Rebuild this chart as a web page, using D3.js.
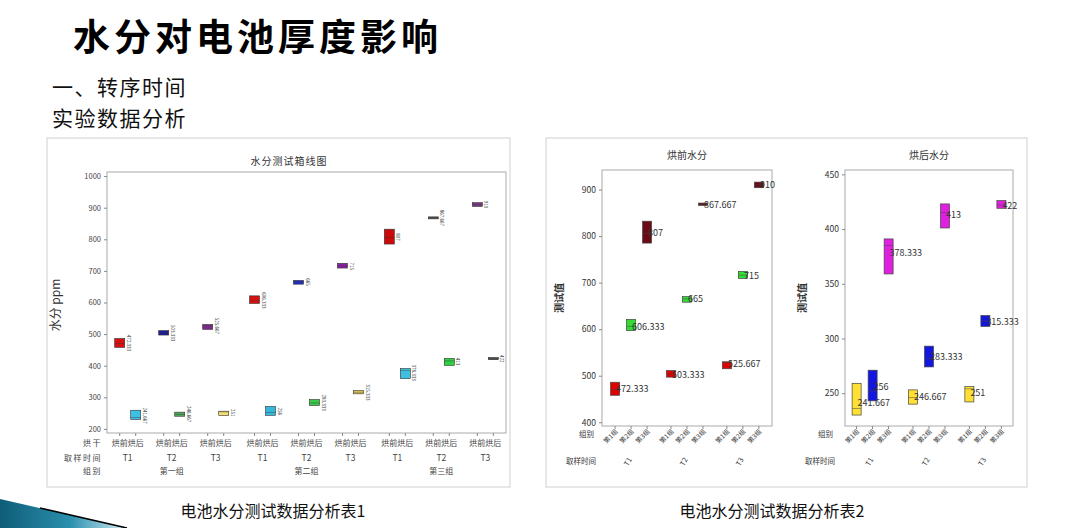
<!doctype html>
<html lang="zh">
<head>
<meta charset="UTF-8">
<title>水分对电池厚度影响</title>
<script src="https://d3js.org/d3.v7.min.js"></script>
<style>
  body { margin: 0; background: #fff; }
  svg text { font-family: "Noto Sans CJK SC", "DejaVu Sans", sans-serif; }
</style>
</head>
<body>
<div id="page"></div>
<script>
// ---- data ----
// order of the 9 entries: group major, time minor (组1 T1, 组1 T2, 组1 T3, 组2 T1 ...)
var groupNames = ["第一组", "第二组", "第三组"];
var groupShort = ["第1组", "第2组", "第3组"];
var times = ["T1", "T2", "T3"];
var dryStates = ["烘前", "烘后"];

var beforeMean = [472.333, 503.333, 525.667, 606.333, 665, 715, 807, 867.667, 910];
var beforeQ1   = [458, 497, 515, 597, 658, 709, 785, 866, 904];
var beforeMed  = [470, 503, 528, 606, 665, 716, 806, 868, 910];
var beforeQ3   = [486, 511, 530, 621, 670, 724, 832, 871, 916];

var afterMean = [241.667, 246.667, 251, 256, 283.333, 315.333, 378.333, 413, 422];
var afterQ1   = [230, 240, 242, 243, 274, 311, 359, 401, 419];
var afterMed  = [236, 246, 254, 252, 282, 316, 385, 415, 422];
var afterQ3   = [259, 253, 256, 271, 293, 321, 391, 423, 426];

var leftTicks = [200, 300, 400, 500, 600, 700, 800, 900, 1000];
var beforeTicks = [400, 500, 600, 700, 800, 900];
var afterTicks = [250, 300, 350, 400, 450];

// colours of the left chart (per entry)
var leftBeforeColors = ["#d81010", "#1e1e9a", "#7a2a8c", "#d81010", "#2030c8", "#8c20a8", "#cc0a0a", "#555555", "#7a3a88"];
var leftAfterColors  = ["#3cc0e6", "#4ea85a", "#f2e070", "#36b8dc", "#3cc84a", "#e8cc50", "#40c0e0", "#30d040", "#555555"];
// colours of the right panels (per group)
var beforeGroupColors = ["#e00000", "#33dd33", "#6b0a14"];
var afterGroupColors  = ["#ffe033", "#1515e0", "#e020e0"];

function fmt(v){ return String(+v.toFixed(3)); }

var svg = d3.select("#page").append("svg")
  .attr("width", 1080).attr("height", 528);

// ---- page texts ----
svg.append("text").attr("x", 73).attr("y", 51)
  .attr("font-size", 37).attr("font-weight", 700).attr("letter-spacing", 4)
  .attr("fill", "#000").text("水分对电池厚度影响");
svg.append("text").attr("x", 52).attr("y", 95)
  .attr("font-size", 21).attr("letter-spacing", 1.5).attr("fill", "#111").text("一、转序时间");
svg.append("text").attr("x", 52).attr("y", 126)
  .attr("font-size", 21).attr("letter-spacing", 1.5).attr("fill", "#111").text("实验数据分析");
svg.append("text").attr("x", 273).attr("y", 517).attr("text-anchor", "middle")
  .attr("font-size", 16).attr("fill", "#111").text("电池水分测试数据分析表1");
svg.append("text").attr("x", 772).attr("y", 517).attr("text-anchor", "middle")
  .attr("font-size", 16).attr("fill", "#111").text("电池水分测试数据分析表2");

// bottom-left swoosh
var grad = svg.append("defs").append("linearGradient").attr("id", "sw")
  .attr("x1", "0").attr("x2", "1").attr("y1", "0").attr("y2", "0");
grad.append("stop").attr("offset", "0").attr("stop-color", "#0f5d78");
grad.append("stop").attr("offset", "0.55").attr("stop-color", "#2a8fae");
grad.append("stop").attr("offset", "1").attr("stop-color", "#d6eef6");
svg.append("path").attr("d", "M0,499 L127,528 L0,528 Z").attr("fill", "url(#sw)");
svg.append("path").attr("d", "M40,508 L127,528").attr("stroke", "#000").attr("stroke-width", 1.6);

// picture frames
svg.append("rect").attr("x", 47).attr("y", 138).attr("width", 463).attr("height", 349)
  .attr("fill", "none").attr("stroke", "#d0d0d0");
svg.append("rect").attr("x", 546).attr("y", 138).attr("width", 481).attr("height", 349)
  .attr("fill", "none").attr("stroke", "#d0d0d0");

// ================= left chart =================
var L = { x0: 107, x1: 506, y0: 172, y1: 433 };
var yL = d3.scaleLinear().domain([187, 1013]).range([L.y1, L.y0]);
var gScale = d3.scalePoint().domain(groupNames).range([L.x0, L.x1]).padding(0.48);
var tScale = d3.scalePoint().domain(times).range([-44, 44]);
var dScale = d3.scalePoint().domain(dryStates).range([-8, 8]);

var left = svg.append("g");
left.append("text").attr("x", 289).attr("y", 165).attr("text-anchor", "middle")
  .attr("font-size", 10).attr("fill", "#333").attr("letter-spacing", 1).text("水分测试箱线图");
left.append("rect").attr("x", L.x0).attr("y", L.y0).attr("width", L.x1 - L.x0).attr("height", L.y1 - L.y0)
  .attr("fill", "none").attr("stroke", "#aaa");

var yAxisL = left.append("g").attr("transform", "translate(" + L.x0 + ",0)")
  .call(d3.axisLeft(yL).tickValues(leftTicks).tickSize(3).tickFormat(d3.format("d")));
yAxisL.select(".domain").remove();
yAxisL.selectAll("line").attr("stroke", "#888");
yAxisL.selectAll("text").attr("font-size", 7.5).attr("fill", "#444").attr("font-family", "DejaVu Sans");

left.append("text").attr("transform", "translate(60,305) rotate(-90)").attr("text-anchor", "middle")
  .attr("font-size", 12).attr("fill", "#333").text("水分  ppm");

var leftRows = [];
groupNames.forEach(function(g, gi){
  times.forEach(function(t, ti){
    var i = gi * 3 + ti;
    leftRows.push({ g: g, t: t, d: "烘前", q1: beforeQ1[i], med: beforeMed[i], q3: beforeQ3[i], mean: beforeMean[i], color: leftBeforeColors[i] });
    leftRows.push({ g: g, t: t, d: "烘后", q1: afterQ1[i], med: afterMed[i], q3: afterQ3[i], mean: afterMean[i], color: leftAfterColors[i] });
  });
});
function xL(d){ return gScale(d.g) + tScale(d.t) + dScale(d.d); }

// x ticks + labels
left.selectAll(".xt").data(leftRows).enter().append("line")
  .attr("x1", xL).attr("x2", xL).attr("y1", L.y1).attr("y2", L.y1 + 3).attr("stroke", "#888");
left.selectAll(".xl").data(leftRows).enter().append("text")
  .attr("x", xL).attr("y", 446).attr("text-anchor", "middle")
  .attr("font-size", 8).attr("fill", "#444").text(function(d){ return d.d; });
var timeCells = [];
groupNames.forEach(function(g){ times.forEach(function(t){ timeCells.push({ g: g, t: t }); }); });
left.selectAll(".tl").data(timeCells).enter().append("text")
  .attr("x", function(d){ return gScale(d.g) + tScale(d.t); }).attr("y", 461)
  .attr("text-anchor", "middle").attr("font-size", 8.5).attr("fill", "#444")
  .attr("font-family", "DejaVu Sans").text(function(d){ return d.t; });
left.selectAll(".gl").data(groupNames).enter().append("text")
  .attr("x", function(d){ return gScale(d); }).attr("y", 474)
  .attr("text-anchor", "middle").attr("font-size", 8).attr("fill", "#444").text(function(d){ return d; });
[["烘干", 446], ["取样时间", 461], ["组别", 474]].forEach(function(r){
  left.append("text").attr("x", 102).attr("y", r[1]).attr("text-anchor", "end")
    .attr("font-size", 8).attr("fill", "#444").attr("letter-spacing", 1.5).text(r[0]);
});

var boxesL = left.selectAll(".bx").data(leftRows).enter().append("g");
boxesL.append("rect")
  .attr("x", function(d){ return xL(d) - 5; }).attr("width", 10)
  .attr("y", function(d){ return yL(d.q3); })
  .attr("height", function(d){ return Math.max(2, yL(d.q1) - yL(d.q3)); })
  .attr("fill", function(d){ return d.color; }).attr("stroke", "#333").attr("stroke-width", 0.6);
boxesL.append("line")
  .attr("x1", function(d){ return xL(d) - 5; }).attr("x2", function(d){ return xL(d) + 5; })
  .attr("y1", function(d){ return yL(d.med); }).attr("y2", function(d){ return yL(d.med); })
  .attr("stroke", "#333").attr("stroke-width", 0.4);
boxesL.append("text")
  .attr("transform", function(d){ return "translate(" + (xL(d) + 7) + "," + yL(d.mean) + ") rotate(90)"; })
  .attr("text-anchor", "middle").attr("font-size", 4.5).attr("fill", "#333")
  .attr("font-family", "DejaVu Sans").text(function(d){ return fmt(d.mean); });

// ================= right panels =================
function drawPanel(opt){
  var P = opt.box;
  var g = svg.append("g");
  var y = d3.scaleLinear().domain(opt.domain).range([P.y1, P.y0]);
  var tS = d3.scalePoint().domain(times).range([P.x0, P.x1]).padding(opt.pad);
  var gS = d3.scalePoint().domain(groupShort).range([-16, 16]);

  g.append("text").attr("x", (P.x0 + P.x1) / 2).attr("y", 159).attr("text-anchor", "middle")
    .attr("font-size", 10).attr("fill", "#333").text(opt.title);
  g.append("rect").attr("x", P.x0).attr("y", P.y0).attr("width", P.x1 - P.x0).attr("height", P.y1 - P.y0)
    .attr("fill", "none").attr("stroke", "#aaa");

  var ya = g.append("g").attr("transform", "translate(" + P.x0 + ",0)")
    .call(d3.axisLeft(y).tickValues(opt.ticks).tickSize(3).tickFormat(d3.format("d")));
  ya.select(".domain").remove();
  ya.selectAll("line").attr("stroke", "#888");
  ya.selectAll("text").attr("font-size", 8.5).attr("fill", "#333").attr("font-family", "DejaVu Sans");

  g.append("text").attr("transform", "translate(" + opt.yLabelX + ",298) rotate(-90)")
    .attr("text-anchor", "middle").attr("font-size", 10).attr("font-weight", 700)
    .attr("fill", "#333").text("测试值");

  var rows = [];
  times.forEach(function(t, ti){
    groupShort.forEach(function(gr, gi){
      var i = gi * 3 + ti;
      rows.push({ t: t, g: gr, q1: opt.q1[i], med: opt.med[i], q3: opt.q3[i], mean: opt.mean[i], color: opt.colors[gi] });
    });
  });
  function x(d){ return tS(d.t) + gS(d.g); }

  g.selectAll(".xt").data(rows).enter().append("line")
    .attr("x1", x).attr("x2", x).attr("y1", P.y1).attr("y2", P.y1 + 3).attr("stroke", "#888");
  g.selectAll(".xl").data(rows).enter().append("text")
    .attr("transform", function(d){ return "translate(" + (x(d) + 3) + "," + (P.y1 + 6) + ") rotate(-45)"; })
    .attr("text-anchor", "end").attr("font-size", 6.5).attr("fill", "#333").text(function(d){ return d.g; });
  g.selectAll(".tl").data(times).enter().append("text")
    .attr("transform", function(d){ return "translate(" + (tS(d) - 1) + ",463) rotate(-60)"; })
    .attr("text-anchor", "middle").attr("font-size", 7).attr("fill", "#333")
    .attr("font-family", "DejaVu Sans").text(function(d){ return d; });
  g.append("text").attr("x", opt.rowLabelX).attr("y", 437).attr("text-anchor", "end")
    .attr("font-size", 7.5).attr("fill", "#333").text("组别");
  g.append("text").attr("x", opt.rowLabelX + 2).attr("y", 464).attr("text-anchor", "end")
    .attr("font-size", 7.5).attr("fill", "#333").text("取样时间");

  var b = g.selectAll(".bx").data(rows).enter().append("g");
  b.append("rect")
    .attr("x", function(d){ return x(d) - 4.5; }).attr("width", 9)
    .attr("y", function(d){ return y(d.q3); })
    .attr("height", function(d){ return Math.max(2, y(d.q1) - y(d.q3)); })
    .attr("fill", function(d){ return d.color; }).attr("stroke", "#444").attr("stroke-width", 0.7);
  b.append("line")
    .attr("x1", function(d){ return x(d) - 4.5; }).attr("x2", function(d){ return x(d) + 4.5; })
    .attr("y1", function(d){ return y(d.med); }).attr("y2", function(d){ return y(d.med); })
    .attr("stroke", "#444").attr("stroke-width", 0.5);
  b.append("text")
    .attr("x", function(d){ return x(d) + 1; }).attr("y", function(d){ return y(d.mean) + 3.5; })
    .attr("font-size", 9).attr("fill", "#333").attr("font-family", "Liberation Sans")
    .text(function(d){ return fmt(d.mean); });
}

drawPanel({
  title: "烘前水分", box: { x0: 602, x1: 772, y0: 170, y1: 426 },
  domain: [392, 942], ticks: beforeTicks, pad: 0.52, yLabelX: 563, rowLabelX: 594,
  q1: beforeQ1, med: beforeMed, q3: beforeQ3, mean: beforeMean, colors: beforeGroupColors
});
drawPanel({
  title: "烘后水分", box: { x0: 845, x1: 1013, y0: 170, y1: 426 },
  domain: [220, 454], ticks: afterTicks, pad: 0.49, yLabelX: 806, rowLabelX: 833,
  q1: afterQ1, med: afterMed, q3: afterQ3, mean: afterMean, colors: afterGroupColors
});
</script>
</body>
</html>
